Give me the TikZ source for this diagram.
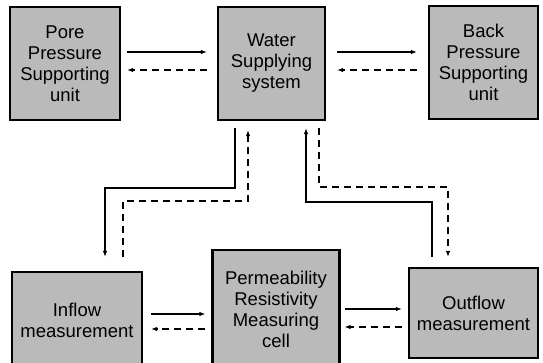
\documentclass[tikz,border=0pt]{standalone}
\usepackage{fontspec}
\setmainfont{Liberation Sans}
\usetikzlibrary{arrows.meta}
\begin{document}
\begin{tikzpicture}[x=1pt,y=-1pt,
  unitbox/.style={draw=black,line width=2.2pt,fill=black!27,inner sep=0pt,
    align=center,font=\fontsize{18.5}{21}\selectfont},
  sarr/.style={line width=1.6pt,-{Latex[length=6pt,width=4.5pt]}},
  darr/.style={line width=1.6pt,dash pattern=on 7pt off 5pt,-{Latex[length=6pt,width=4.5pt]}},
  sline/.style={line width=1.6pt},
  dline/.style={line width=1.6pt,dash pattern=on 7pt off 5pt}]
\useasboundingbox (0,0) rectangle (543,362);
% boxes
\node[unitbox,minimum width=110pt,minimum height=113pt] (pore) at (65,63.5) {Pore\\Pressure\\Supporting\\unit};
\node[unitbox,minimum width=107pt,minimum height=113pt] (water) at (271.5,63.5) {Water\\Supplying\\system};
\node[unitbox,minimum width=109pt,minimum height=113pt] (back) at (483.5,62.5) {Back\\Pressure\\Supporting\\unit};
\node[unitbox,minimum width=130pt,minimum height=96pt] (inflow) at (77,320) {Inflow\\measurement};
\node[unitbox,minimum width=127pt,minimum height=118pt] (perm) at (276,309) {Permeability\\Resistivity\\Measuring\\cell};
\node[unitbox,minimum width=129pt,minimum height=90pt] (outflow) at (473.5,313) {Outflow\\measurement};
% top horizontal connectors
\draw[sarr,shorten <=6pt,shorten >=10pt] (pore.east |- 0,52) -- (water.west |- 0,52);
\draw[darr,shorten <=10pt,shorten >=6pt] (water.west |- 0,70) -- (pore.east |- 0,70);
\draw[sarr,shorten <=11pt,shorten >=11pt] (water.east |- 0,52) -- (back.west |- 0,52);
\draw[darr,shorten <=11pt,shorten >=11pt] (back.west |- 0,70) -- (water.east |- 0,70);
% bottom horizontal connectors
\draw[sarr,shorten <=8pt,shorten >=6pt] (inflow.east |- 0,314) -- (perm.west |- 0,314);
\draw[darr,shorten <=6pt,shorten >=8pt] (perm.west |- 0,329) -- (inflow.east |- 0,329);
\draw[sarr,shorten <=4pt,shorten >=6pt] (perm.east |- 0,309) -- (outflow.west |- 0,309);
\draw[darr,shorten <=6pt,shorten >=4pt] (outflow.west |- 0,327) -- (perm.east |- 0,327);
% vertical connectors, left
\draw[sarr,shorten <=7pt,shorten >=14pt] (water.south -| 235,0) |- (105,188) -- (inflow.north -| 105,0);
\draw[darr,shorten <=14pt,shorten >=9pt] (inflow.north -| 123,0) |- (248,201) -- (water.south -| 248,0);
% vertical connectors, right
\draw[sarr,shorten <=10pt,shorten >=7pt] (outflow.north -| 432,0) |- (306,202) -- (water.south -| 306,0);
\draw[darr,shorten <=7pt,shorten >=10pt] (water.south -| 319,0) |- (448,187) -- (outflow.north -| 448,0);
\end{tikzpicture}
\end{document}
